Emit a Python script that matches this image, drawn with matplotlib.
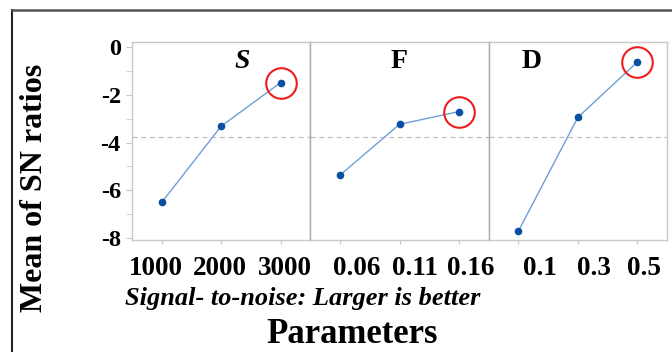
import numpy as np
import matplotlib.pyplot as plt
import matplotlib.transforms as mtransforms
from matplotlib.lines import Line2D

# Main effects plot for SN ratios
factors = ["S", "F", "D"]
levels = [["1000", "2000", "3000"],
          ["0.06", "0.11", "0.16"],
          ["0.1", "0.3", "0.5"]]
sn_S = [-6.50, -3.32, -1.50]
sn_F = [-5.36, -3.24, -2.71]
sn_D = [-7.70, -2.95, -0.64]
series = [sn_S, sn_F, sn_D]

overall_mean = np.mean(sn_S + sn_F + sn_D)

plt.rcParams['font.family'] = ['Liberation Serif', 'DejaVu Serif']

fig = plt.figure(figsize=(6.72, 3.52), dpi=100)
left, right, bottom, top = 0.1964, 0.9926, 0.3182, 0.8816
w = (right - left) / 3

# posiciones de las letras de cada panel (fraccion de ejes)
lab_x = [0.62, 0.50, 0.24]
lab_style = ["italic", "normal", "normal"]
# desplazamiento horizontal de las etiquetas del eje x (px)
lab_shift = [[-6, -1, 4], [17, 15, 12], [22, 16, 7]]

for i in range(3):
    ax = fig.add_axes([left + i * w, bottom, w, top - bottom])
    x = np.arange(3)
    y = series[i]
    ax.axhline(overall_mean, color="#c0c0c0", lw=0.9, ls=(0, (4, 3)), zorder=1)
    ax.plot(x, y, color="#6d9fd6", lw=1.0, zorder=2)
    ax.plot(x, y, ls="none", marker="o", ms=4.5, color="#0b4fa0",
            mec="#0b4fa0", zorder=3)
    k = int(np.argmax(y))
    ax.plot(x[k], y[k], ls="none", marker="o", ms=22, mfc="none",
            mec="#ee1c1c", mew=1.5, zorder=4)
    ax.text(lab_x[i], 0.90, factors[i], transform=ax.transAxes,
            ha="center", va="center", fontsize=20, fontweight="bold",
            fontstyle=lab_style[i])

    ax.set_xlim(-0.5, 2.5)
    ax.set_ylim(-8.07, 0.21)
    ax.set_xticks(x)
    ax.set_xticklabels([])
    ax.tick_params(axis="x", length=3, color="#c8c8c8")
    base = mtransforms.blended_transform_factory(ax.transData, ax.transAxes)
    for j, txt in enumerate(levels[i]):
        off = mtransforms.ScaledTranslation(lab_shift[i][j] / 100, -0.35,
                                            fig.dpi_scale_trans)
        ax.text(x[j], 0, txt, transform=base + off, ha="center",
                va="baseline", fontsize=19.5, fontweight="bold")

    for sp in ax.spines.values():
        sp.set_color("#c8c8c8")
        sp.set_linewidth(1.0)
    if i > 0:
        ax.spines["left"].set_color("#a8a8a8")
        ax.tick_params(axis="y", left=False, labelleft=False, which="both")
    else:
        ax.set_yticks([0, -2, -4, -6, -8])
        ax.set_yticks([-1, -3, -5, -7], minor=True)
        ax.set_yticklabels(["0", "-2", "-4", "-6", "-8"], fontsize=17.5,
                           fontweight="bold")
        ax.tick_params(axis="y", which="both", length=4, color="#c8c8c8", pad=4)

fig.text(0.052, 0.466, "Mean of SN ratios", rotation=90, ha="center",
         va="center", fontsize=23, fontweight="bold")
fig.text(0.186, 0.1335, "Signal- to-noise: Larger is better", ha="left",
         va="baseline", fontsize=19, fontweight="bold", fontstyle="italic")
fig.text(0.524, 0.026, "Parameters", ha="center", va="baseline",
         fontsize=25, fontweight="bold")

# marco de la imagen
fig.add_artist(Line2D([0.018, 0.018], [0.0, 0.9716], color="#222222", lw=1.5))
fig.add_artist(Line2D([0.018, 1.0], [0.9716, 0.9716], color="#555555", lw=1.8))

fig.savefig("out.png", dpi=100)
